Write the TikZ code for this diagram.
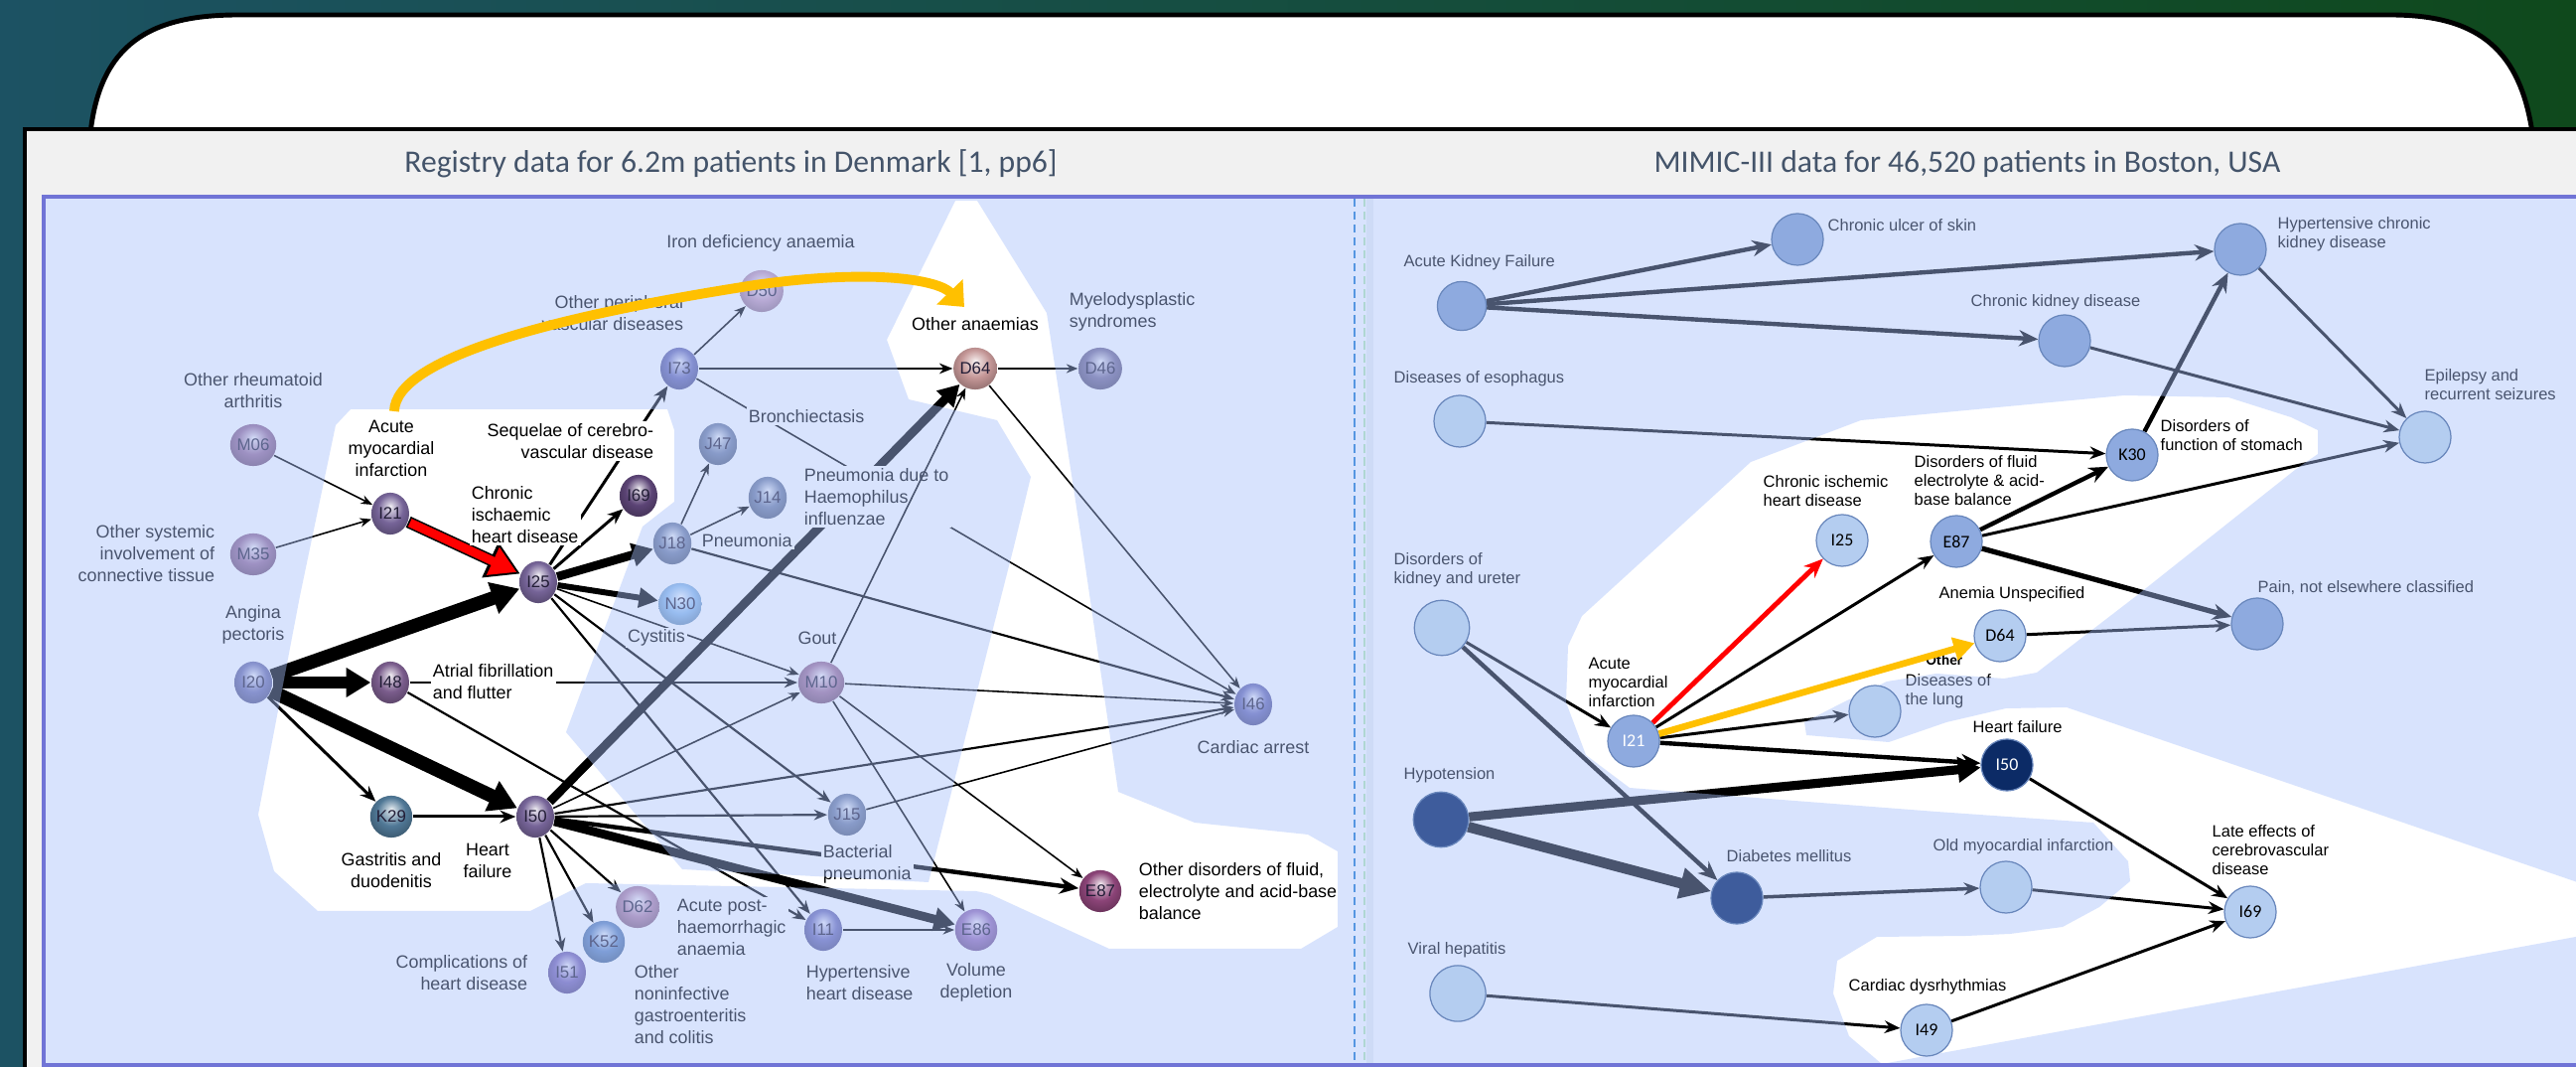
\documentclass[tikz,border=0pt]{standalone}
\usepackage{fontspec}
\usetikzlibrary{arrows.meta,shapes.geometric}
\newfontfamily\arialf{Liberation Sans}
\newfontfamily\calf{Carlito}
\newcommand{\fntL}{\arialf\fontsize{5.1pt}{6.26pt}\selectfont}
\newcommand{\fntR}{\arialf\fontsize{4.69pt}{5.4pt}\selectfont}
\newcommand{\fntN}{\arialf\fontsize{4.8pt}{5.5pt}\selectfont}
\newcommand{\fntRN}{\calf\fontsize{5.1pt}{6pt}\selectfont}
\newcommand{\fntT}{\calf\fontsize{9pt}{11pt}\selectfont}
\newcommand{\fntO}{\calf\bfseries\fontsize{4.3pt}{5pt}\selectfont}
\definecolor{ovl}{RGB}{168,193,252}
\definecolor{ttl}{RGB}{68,84,106}
\definecolor{pborder}{RGB}{112,116,214}
\definecolor{grayp}{RGB}{241,241,241}
\definecolor{bgL}{RGB}{28,82,99}
\definecolor{bgR}{RGB}{15,73,28}
\definecolor{orng}{RGB}{255,192,0}
\definecolor{nmed}{RGB}{142,170,223}
\definecolor{nlight}{RGB}{180,205,240}
\definecolor{ndark}{RGB}{62,92,156}
\definecolor{nnavy}{RGB}{12,43,102}
\definecolor{nrim}{RGB}{105,135,188}
\definecolor{dashb}{RGB}{85,150,225}
\definecolor{dasht}{RGB}{175,215,210}
\definecolor{stripc}{RGB}{206,219,246}
\definecolor{ntxt}{RGB}{35,30,55}
\definecolor{cpur}{RGB}{118,100,152}
\definecolor{cpurb}{RGB}{122,92,140}
\definecolor{cdark}{RGB}{92,68,118}
\definecolor{cbp}{RGB}{112,112,172}
\definecolor{cmauve}{RGB}{150,108,150}
\definecolor{cvio}{RGB}{106,106,178}
\definecolor{cpink}{RGB}{196,152,182}
\definecolor{cbrn}{RGB}{196,150,150}
\definecolor{cgp}{RGB}{118,108,150}
\definecolor{cgb}{RGB}{112,126,162}
\definecolor{clb}{RGB}{140,186,232}
\definecolor{cmten}{RGB}{160,112,150}
\definecolor{csteel}{RGB}{80,120,150}
\definecolor{cplum}{RGB}{140,68,120}
\definecolor{cdsix}{RGB}{178,130,165}
\definecolor{ckfive}{RGB}{95,132,188}
\definecolor{cifive}{RGB}{120,100,178}
\definecolor{cielev}{RGB}{112,110,182}
\definecolor{ceeight}{RGB}{150,110,182}
\colorlet{gcol}{blue}
\pgfdeclareradialshading[gcol]{glossy}{\pgfpoint{0bp}{9bp}}{color(0bp)=(gcol!10!white); color(5bp)=(gcol!40!white); color(17bp)=(gcol); color(27bp)=(gcol!80!black); color(50bp)=(gcol!80!black)}
\pgfdeclarelayer{back}
\pgfdeclarelayer{edges}
\pgfdeclarelayer{labels}
\pgfdeclarelayer{shadelayer}
\pgfsetlayers{back,edges,labels,shadelayer,main}
\tikzset{
  glossy/.code={\colorlet{gcol}{#1}\tikzset{shade,shading=glossy}},
  gnode/.style={ellipse, minimum width=10.8pt, minimum height=12pt, inner sep=0pt, font=\fntN, text=ntxt, glossy=#1},
  rnode/.style={circle, minimum size=14.8pt, inner sep=0pt, draw=nrim, line width=0.35pt, fill=#1, font=\fntRN},
  lbl/.style={font=\fntL, fill=white, inner sep=0.6pt, text=black},
  rlbl/.style={font=\fntR, inner sep=0pt, text=black, anchor=west, align=left},
  eA/.style={draw=black, line width=0.45pt, -{Stealth[length=3.3pt,width=2.6pt]}},
  eB/.style={draw=black, line width=0.62pt, -{Stealth[length=3.8pt,width=3pt]}},
  eC/.style={draw=black, line width=0.85pt, -{Stealth[length=4.5pt,width=3.6pt]}},
  eD/.style={draw=black, line width=1.25pt, -{Stealth[length=5.5pt,width=4.6pt]}},
  eF/.style={draw=black, line width=1.7pt, -{Triangle[length=5.5pt,width=5.5pt]}},
  eI/.style={draw=black, line width=2.5pt, -{Triangle[length=6pt,width=6.5pt]}},
  eL/.style={draw=black, line width=3.2pt, -{Triangle[length=7pt,width=8pt]}},
  eN/.style={draw=black, line width=3.9pt, -{Triangle[length=8pt,width=9pt]}}
}
\begin{document}
\begin{tikzpicture}[x=0.01cm, y=-0.01cm]
\useasboundingbox (0,0) rectangle (2594,1074);
\begin{pgfonlayer}{back}
\fill[left color=bgL, right color=bgR] (0,0) rectangle (2594,1074);
\filldraw[fill=white, draw=black, line width=1.4pt] (91,134) .. controls (101,45) and (150,15) .. (240,15) -- (2407,15) .. controls (2490,15) and (2537,45) .. (2550,134);
\fill[grayp] (25,130) rectangle (2594,1074);
\draw[black, line width=1.3pt] (25,1074) -- (25,130) -- (2594,130);
\node[font=\fntT, text=ttl] (t1) at (736,165) {Registry data for 6.2m patients in Denmark [1, pp6]};
\node[font=\fntT, text=ttl] (t2) at (1981,165) {MIMIC-III data for 46,520 patients in Boston, USA};
\fill[white] (44,198) rectangle (2594,1072);
\end{pgfonlayer}

% right panel nodes (top layer)
\node[rnode=nmed, minimum size=14pt] (AKF) at (1472,308) {};
\node[rnode=nmed] (Ulcer) at (1810,241) {};
\node[rnode=nmed] (HCKD) at (2256,251) {};
\node[rnode=nmed] (CKD) at (2079,343) {};
\node[rnode=nlight] (Eso) at (1470,424) {};
\node[rnode=nlight] (Epi) at (2442,440) {};
\node[rnode=nmed] (K30) at (2147,458) {K30};
\node[rnode=nlight] (rI25) at (1855,544) {I25};
\node[rnode=nmed] (rE87) at (1970,545) {E87};
\node[rnode=nlight, minimum size=15.8pt] (Kid) at (1452,632) {};
\node[rnode=nmed] (Pain) at (2273,628) {};
\node[rnode=nlight] (rD64) at (2014,640) {D64};
\node[rnode=nmed, text=white] (rI21) at (1645,746) {I21};
\node[rnode=nlight] (Lung) at (1888,716) {};
\node[rnode=nnavy, text=white] (rI50) at (2021,770) {I50};
\node[rnode=ndark, minimum size=15.8pt] (Hypo) at (1451,825) {};
\node[rnode=nlight] (OldMI) at (2020,893) {};
\node[rnode=ndark] (Diab) at (1749,904) {};
\node[rnode=nlight] (rI69) at (2266,918) {I69};
\node[rnode=nlight, minimum size=16pt] (Viral) at (1468,1000) {};
\node[rnode=nlight] (I49) at (1940,1037) {I49};

\begin{pgfonlayer}{labels}
\node[gnode=cmauve] (M06) at (255,448) {M06};
\node[gnode=cpur] (I21) at (393,517) {I21};
\node[gnode=cmauve] (M35) at (255,558) {M35};
\node[gnode=cpur] (I25) at (542,586) {I25};
\node[gnode=cdark] (I69) at (643,499) {I69};
\node[gnode=cvio] (I73) at (684,371) {I73};
\node[gnode=cpink] (D50) at (767,293) {D50};
\node[gnode=cbrn] (D64) at (982,371) {D64};
\node[gnode=cgp] (D46) at (1108,371) {D46};
\node[gnode=cgb] (J47) at (723,447) {J47};
\node[gnode=cgb] (J14) at (773,501) {J14};
\node[gnode=cgb] (J18) at (677,547) {J18};
\node[gnode=clb] (N30) at (685,608) {N30};
\node[gnode=cbp] (I20) at (255,687) {I20};
\node[gnode=cpurb] (I48) at (393,687) {I48};
\node[gnode=cmten] (M10) at (827,687) {M10};
\node[gnode=cvio] (I46) at (1262,709) {I46};
\node[gnode=csteel] (K29) at (394,822) {K29};
\node[gnode=cpur] (I50) at (539,822) {I50};
\node[gnode=cgb] (J15) at (853,820) {J15};
\node[gnode=cplum] (E87) at (1108,897) {E87};
\node[gnode=cdsix] (D62) at (642,913) {D62};
\node[gnode=ckfive] (K52) at (608,948) {K52};
\node[gnode=cifive] (I51) at (571,979) {I51};
\node[gnode=cielev] (I11) at (829,936) {I11};
\node[gnode=ceeight] (E86) at (983,936) {E86};
% left labels
\node[lbl] (lIron) at (766,245) {Iron deficiency anaemia};
\node[lbl, anchor=east, align=right] (lI73) at (691,315) {Other peripheral\\vascular diseases};
\node[lbl] (lD64) at (982,326) {Other anaemias};
\node[lbl, anchor=west, align=left] (lD46) at (1074,314) {Myelodysplastic\\syndromes};
\node[lbl, align=center] (lM06) at (255,393) {Other rheumatoid\\arthritis};
\node[lbl, align=center] (lI21) at (394,451) {Acute\\myocardial\\infarction};
\node[lbl, anchor=east, align=right] (lI69) at (661,444) {Sequelae of cerebro-\\vascular disease};
\node[lbl, anchor=west, align=left] (lI25) at (472,518) {Chronic\\ischaemic\\heart disease};
\node[lbl, anchor=west] (lJ47) at (751,419) {Bronchiectasis};
\node[lbl, anchor=west, align=left] (lJ14) at (807,500) {Pneumonia due to\\Haemophilus\\influenzae};
\node[lbl, anchor=west] (lJ18) at (704,544) {Pneumonia};
\node[lbl, anchor=east, align=right] (lM35) at (219,557) {Other systemic\\involvement of\\connective tissue};
\node[lbl, align=center] (lI20) at (255,629) {Angina\\pectoris};
\node[lbl] (lN30) at (661,642) {Cystitis};
\node[lbl] (lM10) at (823,642) {Gout};
\node[lbl, anchor=west, align=left] (lI48) at (433,686) {Atrial fibrillation\\and flutter};
\node[lbl] (lI46) at (1262,752) {Cardiac arrest};
\node[lbl, align=center] (lK29) at (394,876) {Gastritis and\\duodenitis};
\node[lbl, align=center] (lI50) at (491,866) {Heart\\failure};
\node[lbl, anchor=west, align=left] (lJ15) at (826,870) {Bacterial\\pneumonia};
\node[lbl, anchor=west, align=left] (lE87) at (1144,897) {Other disorders of fluid,\\electrolyte and acid-base\\balance};
\node[lbl, anchor=west, align=left] (lD62) at (679,933) {Acute post-\\haemorrhagic\\anaemia};
\node[lbl, anchor=east, align=right] (lI51) at (534,979) {Complications of\\heart disease};
\node[lbl, anchor=west, align=left] (lK52) at (636,1011) {Other\\noninfective\\gastroenteritis\\and colitis};
\node[lbl, anchor=west, align=left] (lI11) at (809,989) {Hypertensive\\heart disease};
\node[lbl, align=center] (lE86) at (983,989) {Volume\\depletion};
\draw[eA] (M10) -- (D64);
% right labels
\node[rlbl] (rl1) at (1413,264) {Acute Kidney Failure};
\node[rlbl] (rl2) at (1840,227) {Chronic ulcer of skin};
\node[rlbl] (rl3) at (2293,236) {Hypertensive chronic\\kidney disease};
\node[rlbl] (rl4) at (1984,304) {Chronic kidney disease};
\node[rlbl] (rl5) at (1403,381) {Diseases of esophagus};
\node[rlbl] (rl6) at (2441,387) {Epilepsy and\\recurrent seizures};
\node[rlbl] (rl7) at (2175,438) {Disorders of\\function of stomach};
\node[rlbl] (rl8) at (1775,494) {Chronic ischemic\\heart disease};
\node[rlbl] (rl9) at (1927,484) {Disorders of fluid\\electrolyte \& acid-\\base balance};
\node[rlbl] (rl10) at (1403,574) {Disorders of\\kidney and ureter};
\node[rlbl] (rl11) at (2273,592) {Pain, not elsewhere classified};
\node[rlbl] (rl12) at (1952,598) {Anemia Unspecified};
\node[rlbl, font=\fntO] (rl13) at (1939,664) {Other};
\node[rlbl] (rl14) at (1599,687) {Acute\\myocardial\\infarction};
\node[rlbl] (rl15) at (1918,696) {Diseases of\\the lung};
\node[rlbl] (rl16) at (1986,732) {Heart failure};
\node[rlbl] (rl17) at (1413,780) {Hypotension};
\node[rlbl] (rl18) at (1946,852) {Old myocardial infarction};
\node[rlbl] (rl19) at (1738,862) {Diabetes mellitus};
\node[rlbl] (rl20) at (2227,856) {Late effects of\\cerebrovascular\\disease};
\node[rlbl] (rl21) at (1417,956) {Viral hepatitis};
\node[rlbl] (rl22) at (1861,993) {Cardiac dysrhythmias};
\end{pgfonlayer}

\begin{pgfonlayer}{edges}
% left panel
\draw[eN] (I20) -- (I25);
\draw[eL] (I20) -- (I48);
\draw[eN] (I20) -- (I50);
\draw[eC] (I20) -- (K29);
\draw[eC] (K29) -- (I50);
\draw[eA] (M06) -- (I21);
\draw[eA] (M35) -- (I21);
\draw[black, line width=3.4pt, -{Triangle[length=9.5pt,width=10.5pt]}] (I21) -- (I25);
\draw[red, line width=2.5pt, -{Triangle[length=7.5pt,width=8.2pt]}, shorten >=1.1pt, shorten <=0.5pt] (I21) -- (I25);
\draw[eC] (I25) -- (I73);
\draw[eC] (I25) -- (I69);
\draw[eI] (I25) -- (J18);
\draw[eF] (I25) -- (N30);
\draw[eA] (I25) -- (M10);
\draw[eB] (I25) -- (J15);
\draw[eB] (I25) -- (I11);
\draw[eB] (I48) -- (M10);
\draw[eB] (I48) -- (I11);
\draw[eI] (I50) -- (D64);
\draw[eA] (I50) -- (M10);
\draw[eB] (I50) -- (I46);
\draw[eB] (I50) -- (J15);
\draw[eD] (I50) -- (E87);
\draw[eI] (I50) -- (E86);
\draw[eB] (I50) -- (D62);
\draw[eB] (I50) -- (K52);
\draw[eB] (I50) -- (I51);
\draw[eA] (I73) -- (D50);
\draw[eB] (I73) -- (D64);
\draw[eA] (I73) -- (I46);
\draw[eA] (D64) -- (D46);
\draw[eA] (D64) -- (I46);
\draw[eA] (J18) -- (J47);
\draw[eA] (J18) -- (J14);
\draw[eB] (J18) -- (I46);
\draw[eA] (M10) -- (I46);
\draw[eA] (M10) -- (E86);
\draw[eA] (M10) -- (E87);
\draw[eA] (J15) -- (I46);
\draw[eA] (I11) -- (E86);
% right panel
\draw[eD] (AKF) -- (Ulcer);
\draw[eD] (AKF) -- (HCKD);
\draw[eD] (AKF) -- (CKD);
\draw[eC] (Eso) -- (K30);
\draw[eC] (HCKD) -- (Epi);
\draw[eC] (CKD) -- (Epi);
\draw[eD] (K30) -- (HCKD);
\draw[eD] (rE87) -- (K30);
\draw[eC] (rE87) -- (Epi);
\draw[eD, line width=1.5pt] (rE87) -- (Pain);
\draw[eC] (rD64) -- (Pain);
\draw[eD, draw=red, line width=1.4pt] (rI21) -- (rI25);
\draw[eC] (rI21) -- (rE87);
\draw[eC] (rI21) -- (Lung);
\draw[eD] (rI21) -- (rI50);
\draw[eC] (Kid) -- (rI21);
\draw[eD] (Kid) -- (Diab);
\draw[draw=black, line width=2.6pt, -{Triangle[length=6.5pt,width=7pt]}] (Hypo) -- (rI50);
\draw[draw=black, line width=3pt, -{Triangle[length=9pt,width=8.5pt]}] (Hypo) -- (Diab);
\draw[eC, line width=1pt] (Diab) -- (OldMI);
\draw[eC] (OldMI) -- (rI69);
\draw[eC] (rI50) -- (rI69);
\draw[eC] (Viral) -- (I49);
\draw[eC] (I49) -- (rI69);
\end{pgfonlayer}

\begin{pgfonlayer}{shadelayer}
\fill[ovl, fill opacity=0.44, even odd rule] (44,198) rectangle (2594,1072)
 (338,428) -- (353,412) -- (672,412) -- (679,433) -- (679,505) -- (647,530) -- (570,737) -- (687,875) -- (935,888) -- (1021,550) -- (1038,480) -- (1004,423) -- (915,402) -- (893,342) -- (962,202) -- (984,202) -- (1054,315) -- (1090,550) -- (1126,797) -- (1203,828) -- (1317,840) -- (1347,857) -- (1347,933) -- (1310,955) -- (1117,955) -- (997,900) -- (983,897) -- (590,889) -- (534,917) -- (320,917) -- (276,877) -- (260,820) -- (302,600) -- cycle
 (1874,423) -- (1980,413) -- (2139,398) -- (2244,400) -- (2307,420) -- (2334,433) -- (2334,457) -- (2311,473) -- (2151,600) -- (2073,660) -- (2051,677) -- (2018,683) -- (1950,678) -- (1900,686) -- (1856,707) -- (1817,727) -- (1819,740) -- (1902,747) -- (1960,727) -- (2020,713) -- (2081,712) -- (2610,893) -- (2610,940) -- (1895,1071) -- (1862,1043) -- (1846,1000) -- (1850,967) -- (1890,943) -- (1980,942) -- (2024,940) -- (2077,933) -- (2114,913) -- (2145,887) -- (2143,867) -- (2108,828) -- (1950,817) -- (1755,802) -- (1641,793) -- (1597,760) -- (1577,707) -- (1579,650) -- (1593,620) -- (1763,465) -- cycle;
\end{pgfonlayer}

% top layer decorations
\fill[stripc] (1376,200) rectangle (1383,1070);
\draw[dashb, line width=0.6pt, dash pattern=on 2.4pt off 1.3pt] (1364,200) -- (1364,1070);
\draw[dasht, line width=0.6pt, dash pattern=on 2.4pt off 1.3pt] (1374,200) -- (1374,1070);
\draw[pborder, line width=0.9pt] (2594,198) -- (44,198) -- (44,1072) -- (2594,1072);
\coordinate (oS) at (397,414);
\coordinate (oE) at (971,309);
\draw[orng, line width=2.8pt, -{Triangle[length=6pt,width=10pt]}] (oS) .. controls (398,360) and (560,318) .. (760,287) .. controls (880,270) and (945,282) .. (oE);
\draw[orng, line width=1.9pt, -{Triangle[length=6pt,width=6.5pt]}] (rI21) -- (rD64);
\end{tikzpicture}
\end{document}
